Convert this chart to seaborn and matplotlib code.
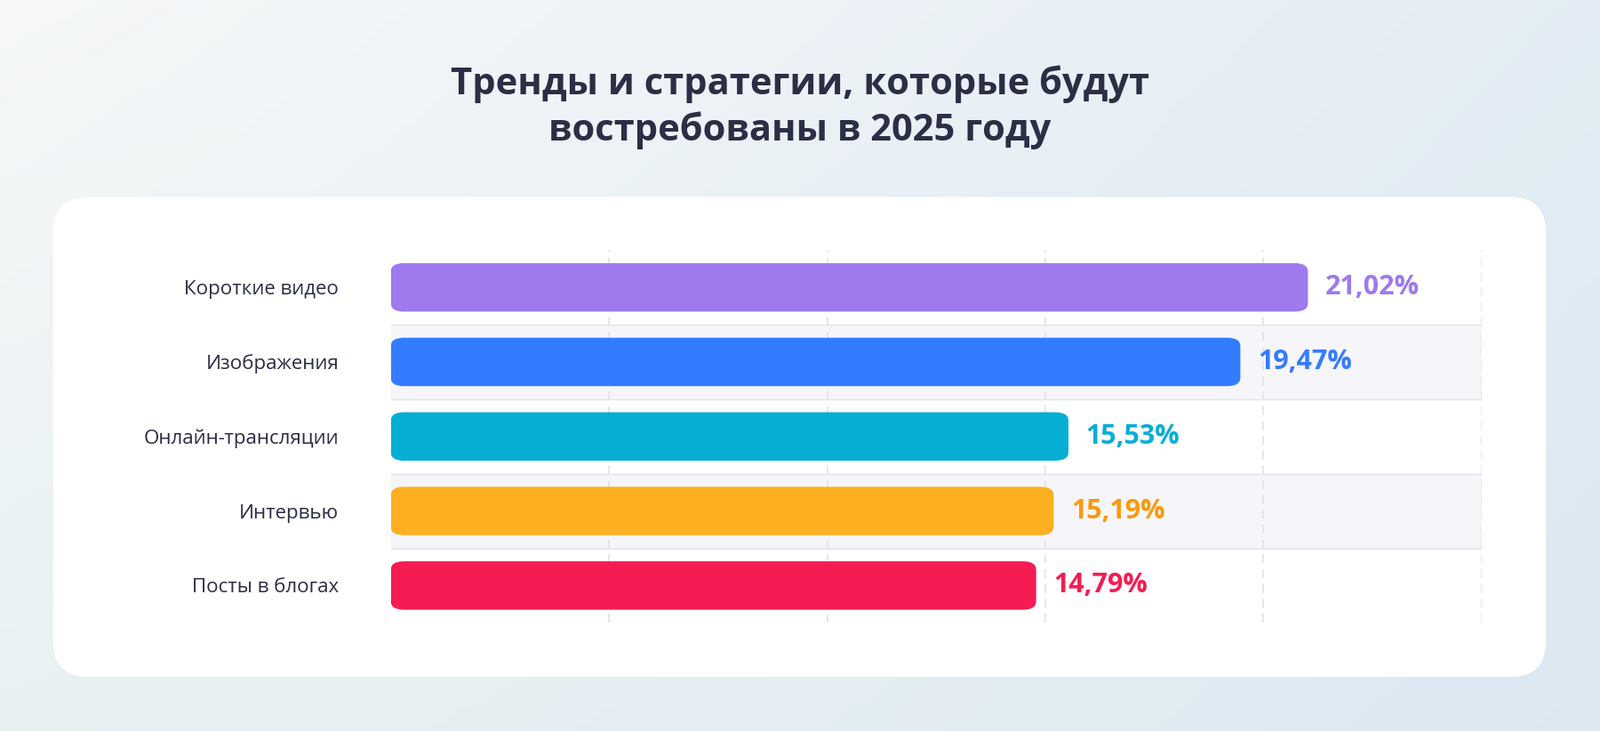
import numpy as np
import pandas as pd
import matplotlib
matplotlib.use('Agg')
import matplotlib.pyplot as plt
from matplotlib.patches import FancyBboxPatch
import seaborn as sns

# data
categories = ['Короткие видео', 'Изображения', 'Онлайн-трансляции', 'Интервью', 'Посты в блогах']
values = [21.02, 19.47, 15.53, 15.19, 14.79]
value_labels = ['21,02%', '19,47%', '15,53%', '15,19%', '14,79%']
bar_colors = ['#9d7aed', '#347cff', '#06aed4', '#fdaf22', '#f41c52']
text_colors = ['#9d7aed', '#347cff', '#06aed4', '#f99a0c', '#f41c52']
title = 'Тренды и стратегии, которые будут\nвостребованы в 2025 году'

plt.rcParams['font.family'] = 'Open Sans'
W, H = 1568, 716
fig = plt.figure(figsize=(18, 8.22), dpi=100)

# background gradient
bg = fig.add_axes([0, 0, 1, 1], zorder=0)
xx, yy = np.meshgrid(np.linspace(0, 1, 200), np.linspace(0, 1, 100))
c1 = np.array([0.965, 0.972, 0.975])
c2 = np.array([0.86, 0.91, 0.95])
c3 = np.array([0.86, 0.93, 0.91])
t = (xx * 0.7 + yy * 0.3)[..., None]
img = c1 * (1 - t) + c2 * t
m = 0.3 * yy[..., None] * (1 - xx[..., None])
img = img * (1 - m) + c3 * m
bg.imshow(img, extent=[0, 1, 0, 1], aspect='auto', origin='upper')
bg.set_xlim(0, 1); bg.set_ylim(0, 1); bg.axis('off')
bg.add_patch(FancyBboxPatch((52 / W, 1 - 663 / H), (1515 - 52) / W, (663 - 193) / H,
                            boxstyle='round,pad=0,rounding_size=0.022', mutation_aspect=W / H,
                            fc='white', ec='none', transform=bg.transAxes))
fig.text(0.5, 1 - 105 / H, title, ha='center', va='center', fontsize=30, fontweight='bold',
         color='#2b2e45', linespacing=1.3)

ax = fig.add_axes([383 / W, 1 - 610 / H, (1452 - 383) / W, (610 - 245) / H], zorder=1)
ax.patch.set_alpha(0)
df = pd.DataFrame({'cat': categories, 'val': values})
sns.barplot(data=df, x='val', y='cat', hue='cat', palette=bar_colors, legend=False,
            saturation=1, width=0.65, ax=ax, zorder=3)

# rounded bars
for p in list(ax.patches):
    x0, y0, w, h = p.get_x(), p.get_y(), p.get_width(), p.get_height()
    fc = p.get_facecolor()
    p.remove()
    ax.add_patch(FancyBboxPatch((x0, y0), w, h, boxstyle='round,pad=0,rounding_size=0.3',
                                mutation_aspect=0.5 / 1.3, fc=fc, ec='none', zorder=3))

# alternating bands
for i in [1, 3]:
    ax.axhspan(i - 0.5, i + 0.5, color='#f5f5fa', zorder=0)
for y in [0.5, 1.5, 2.5, 3.5]:
    ax.axhline(y, color='#e4e4ec', lw=1, zorder=1)
for x in [5, 10, 15, 20, 25]:
    ax.axvline(x, color='#e2e2e8', lw=1.2, ls=(0, (6, 4)), zorder=1)

for i, (v, lab) in enumerate(zip(values, value_labels)):
    ax.text(v + 0.4, i, lab, va='center', ha='left', fontsize=22, fontweight='bold',
            color=text_colors[i], zorder=4)

ax.set_xlim(0, 25)
ax.set_ylim(4.5, -0.5)
ax.set_xlabel(''); ax.set_ylabel('')
ax.set_xticks([])
ax.tick_params(axis='y', length=0, pad=42, labelsize=16, labelcolor='#2b2e45')
for s in ax.spines.values():
    s.set_visible(False)

fig.savefig('out.png', dpi=100)
